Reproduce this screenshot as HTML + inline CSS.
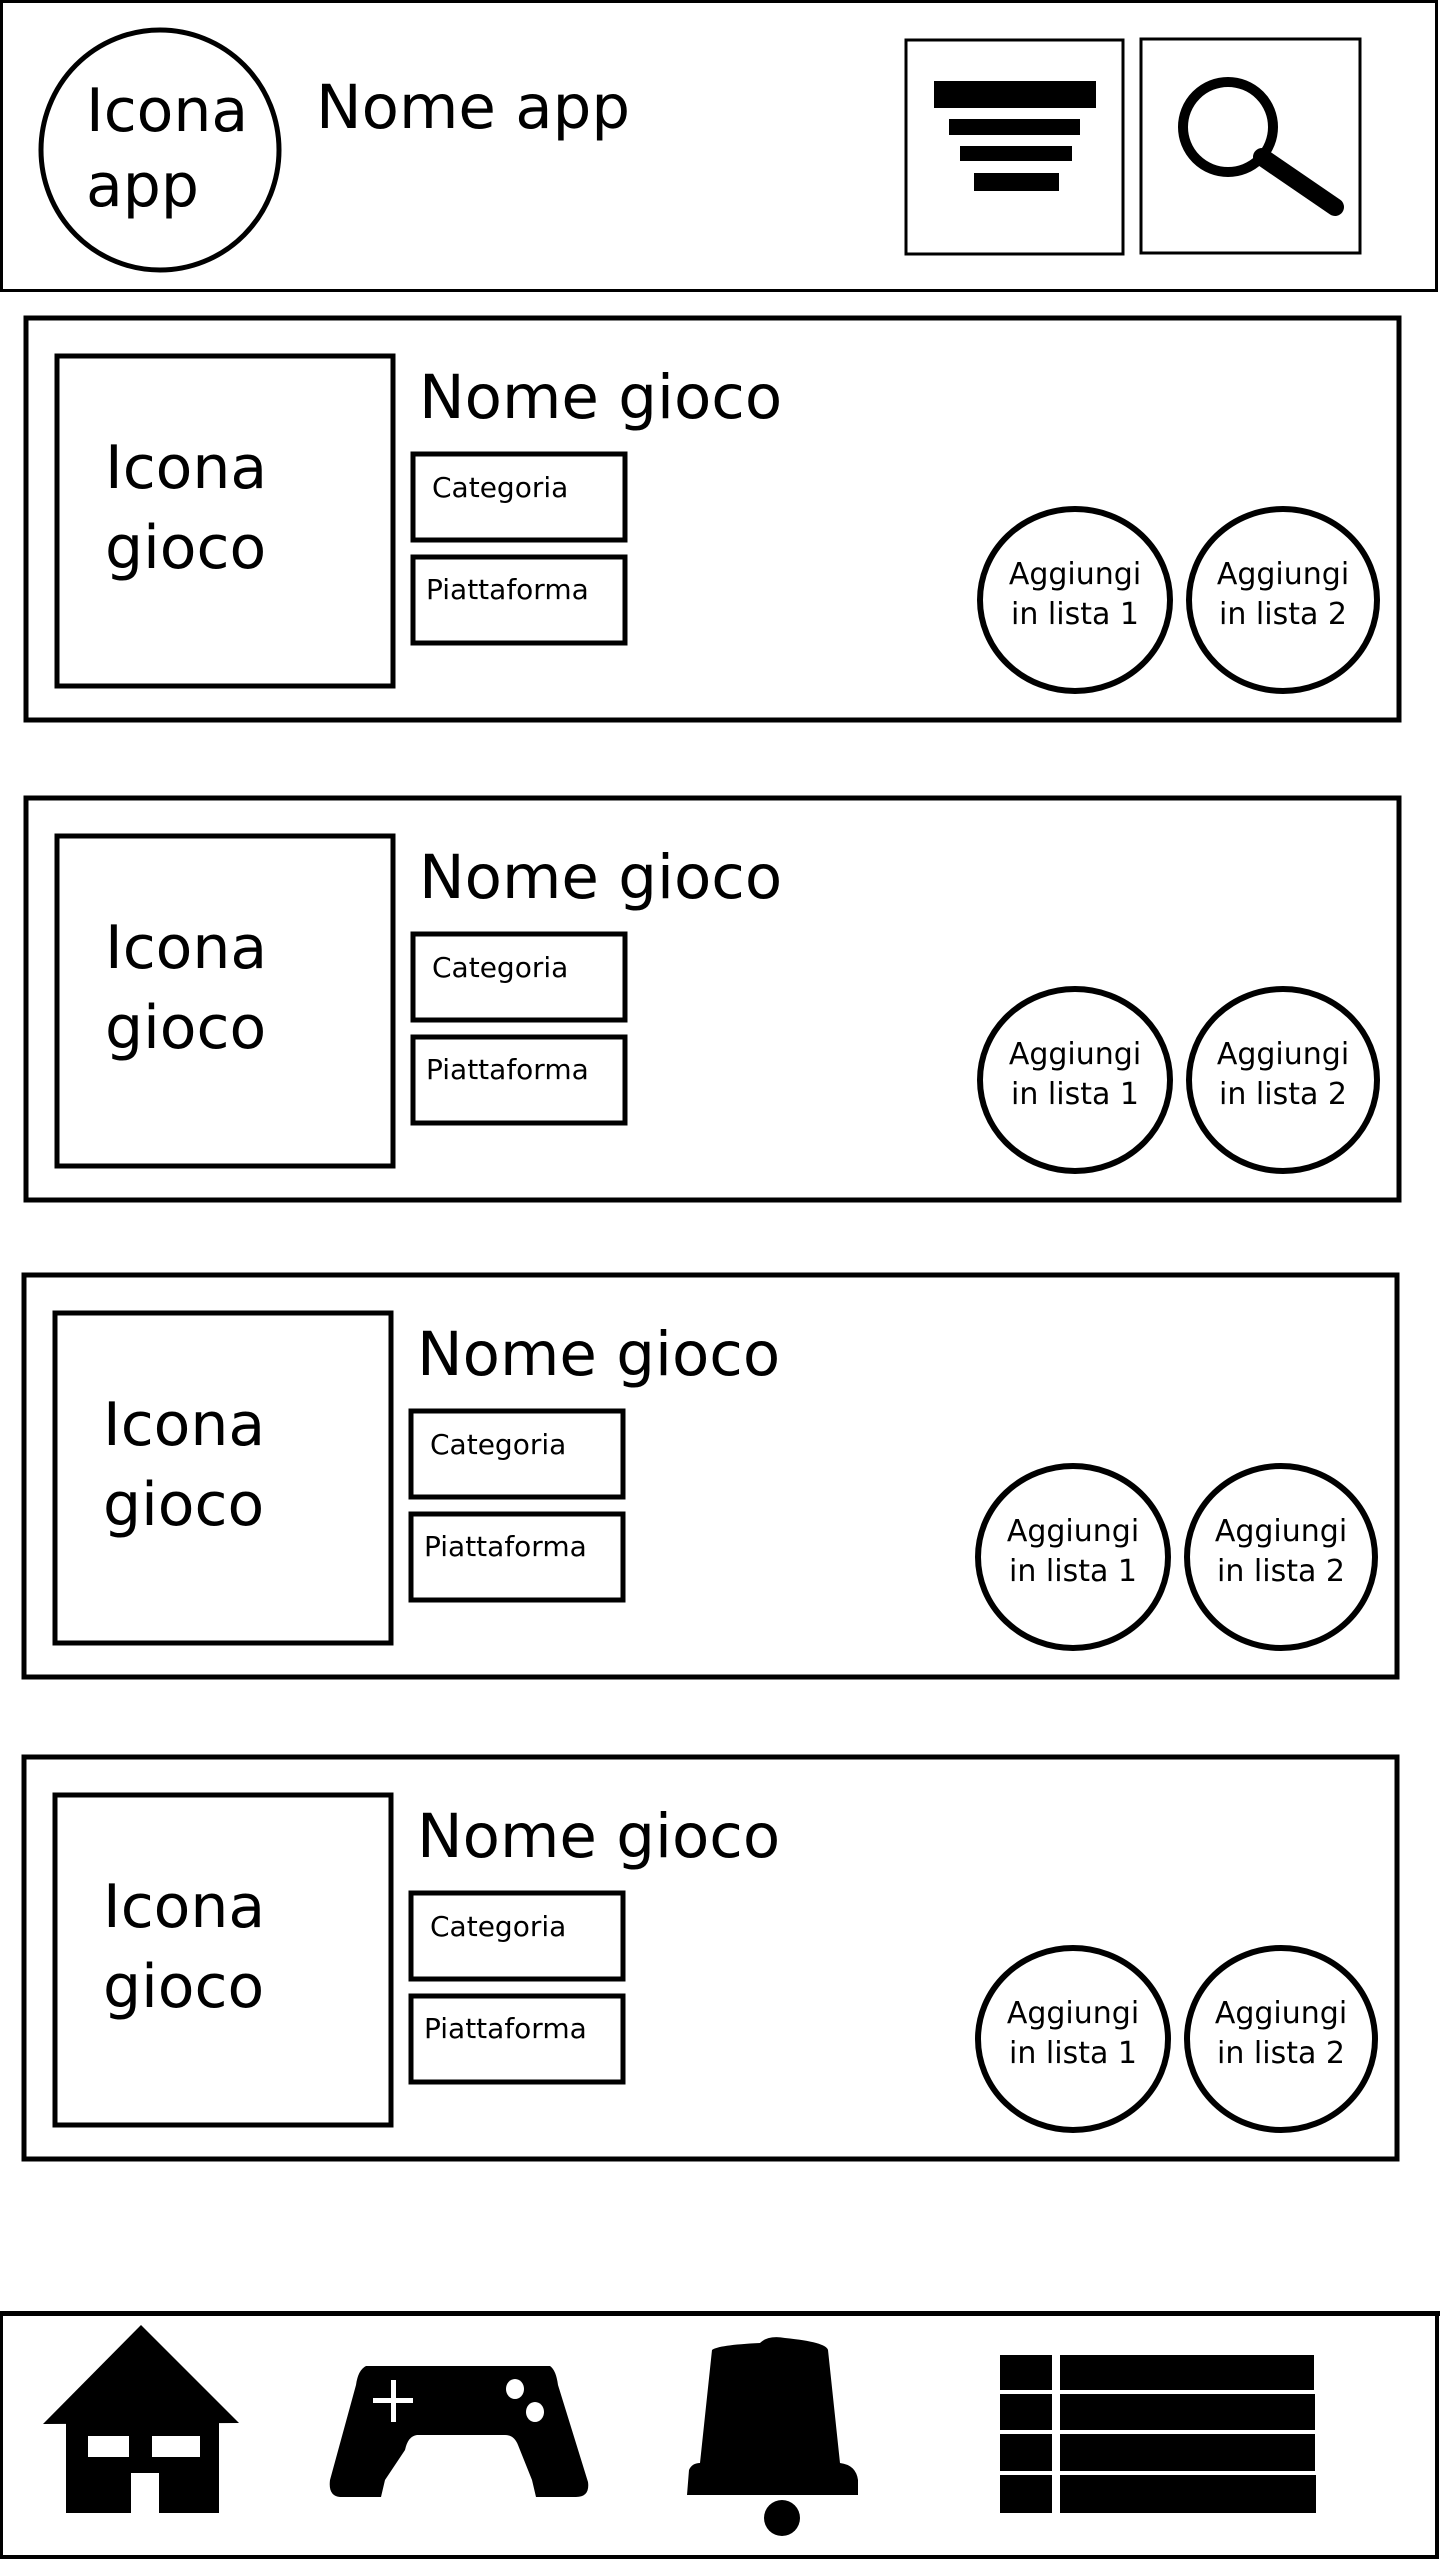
<!DOCTYPE html>
<html><head><meta charset="utf-8"><style>
html,body{margin:0;padding:0;background:#fff;}
svg{display:block;}
text{font-family:"DejaVu Sans","Liberation Sans",sans-serif;fill:#000;}
</style></head><body>
<svg width="1440" height="2560" viewBox="0 0 1440 2560" xmlns="http://www.w3.org/2000/svg">
<defs>
<g id="card">
  <rect x="0" y="0" width="1373" height="402" fill="none" stroke="#000" stroke-width="5"/>
  <rect x="31" y="38" width="336" height="330" fill="none" stroke="#000" stroke-width="5"/>
  <text x="79" y="170" font-size="60">Icona</text>
  <text x="79" y="250" font-size="60">gioco</text>
  <text x="393" y="100" font-size="61">Nome gioco</text>
  <rect x="387" y="136" width="212" height="86" fill="none" stroke="#000" stroke-width="5"/>
  <text x="406" y="179" font-size="28">Categoria</text>
  <rect x="387" y="239" width="212" height="86" fill="none" stroke="#000" stroke-width="5"/>
  <text x="400" y="281" font-size="28">Piattaforma</text>
  <ellipse cx="1049" cy="282" rx="95" ry="91" fill="none" stroke="#000" stroke-width="6"/>
  <text x="1049" y="266" font-size="30" text-anchor="middle">Aggiungi</text>
  <text x="1049" y="306" font-size="30" text-anchor="middle">in lista 1</text>
  <ellipse cx="1257" cy="282" rx="94" ry="91" fill="none" stroke="#000" stroke-width="6"/>
  <text x="1257" y="266" font-size="30" text-anchor="middle">Aggiungi</text>
  <text x="1257" y="306" font-size="30" text-anchor="middle">in lista 2</text>
</g>
</defs>

<!-- header -->
<rect x="1.5" y="1.5" width="1435" height="289" fill="none" stroke="#000" stroke-width="3"/>
<ellipse cx="160" cy="150" rx="119" ry="120" fill="none" stroke="#000" stroke-width="5"/>
<text x="86" y="131" font-size="60">Icona</text>
<text x="86" y="206" font-size="60">app</text>
<text x="316" y="128" font-size="61">Nome app</text>
<rect x="906" y="40" width="217" height="214" fill="none" stroke="#000" stroke-width="3"/>
<rect x="934" y="81" width="162" height="27"/>
<rect x="949" y="119" width="131" height="16"/>
<rect x="960" y="146" width="112" height="15"/>
<rect x="974" y="173" width="85" height="18"/>
<rect x="1141" y="39" width="219" height="214" fill="none" stroke="#000" stroke-width="3"/>
<circle cx="1228" cy="127" r="45" fill="none" stroke="#000" stroke-width="10"/>
<line x1="1262" y1="157" x2="1335" y2="207" stroke="#000" stroke-width="18" stroke-linecap="round"/>

<!-- cards -->
<use href="#card" x="26" y="318"/>
<use href="#card" x="26" y="798"/>
<use href="#card" x="24" y="1275"/>
<use href="#card" x="24" y="1757"/>

<!-- bottom bar -->
<rect x="1" y="2314" width="1436" height="243" fill="none" stroke="#000" stroke-width="4"/>
<rect x="0" y="2311" width="1440" height="5"/>
<!-- house -->
<polygon points="141,2325 43,2424 239,2423"/>
<rect x="66" y="2422" width="153" height="91"/>
<rect x="88" y="2436" width="41" height="21" fill="#fff"/>
<rect x="152" y="2436" width="48" height="21" fill="#fff"/>
<rect x="131" y="2473" width="28" height="40" fill="#fff"/>
<!-- controller -->
<path d="M366,2366 L550,2366 Q556,2370 558,2385 L588,2482 Q590,2497 576,2497 L536,2497 L532,2480 L518,2445 Q514,2435 505,2435 L417,2435 Q408,2436 405,2450 L385,2480 L381,2497 L340,2497 Q328,2496 330,2480 L356,2385 Q358,2370 366,2366 Z"/>
<rect x="391" y="2380" width="5" height="42" fill="#fff"/>
<rect x="373" y="2398" width="40" height="5" fill="#fff"/>
<ellipse cx="515" cy="2389" rx="9" ry="10" fill="#fff"/>
<ellipse cx="535" cy="2412" rx="9" ry="10" fill="#fff"/>
<!-- bell -->
<path d="M760,2343 Q768,2335 785,2338 Q826,2342 828,2350 L840,2463 Q856,2465 858,2480 L858,2495 L687,2495 L689,2470 Q692,2463 700,2463 L712,2350 Q718,2345 760,2343 Z"/>
<ellipse cx="782" cy="2518" rx="18" ry="18"/>
<!-- list -->
<rect x="1000" y="2355" width="52" height="35"/><rect x="1060" y="2355" width="254" height="35"/>
<rect x="1000" y="2394" width="52" height="36"/><rect x="1060" y="2394" width="255" height="36"/>
<rect x="1000" y="2434" width="52" height="37"/><rect x="1060" y="2434" width="255" height="37"/>
<rect x="1000" y="2475" width="52" height="38"/><rect x="1060" y="2475" width="256" height="38"/>
</svg>
</body></html>
